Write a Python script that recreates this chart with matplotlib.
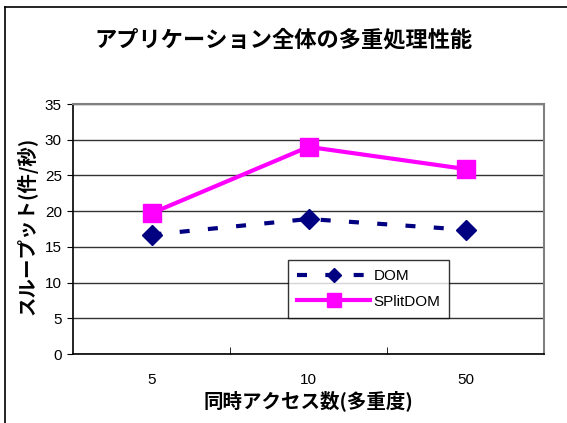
import matplotlib
matplotlib.use("Agg")
import matplotlib.pyplot as plt
from matplotlib.lines import Line2D

plt.rcParams['font.family'] = ['Liberation Sans', 'Noto Sans CJK JP', 'DejaVu Sans']

# データ
categories = ['5', '10', '50']
dom = [16.7, 18.9, 17.4]
splitdom = [19.7, 29.0, 25.9]
yticks = [0, 5, 10, 15, 20, 25, 30, 35]

W, H = 567, 423
fig = plt.figure(figsize=(W / 100, H / 100), dpi=100)
ax = fig.add_axes([73 / W, 1 - 354 / H, (544 - 73) / W, (354 - 104) / H])

x = list(range(len(categories)))
ax.plot(x, dom, color='#000080', lw=3, ls=(0, (2.4, 4.4)), marker='D',
        ms=10, label='DOM', zorder=3)
ax.plot(x, splitdom, color='#FF00FF', lw=3, marker='s', ms=13,
        label='SPlitDOM', zorder=4)

ax.set_xlim(-0.5, 2.5)
ax.set_ylim(0, 35)
ax.set_yticks(yticks)
ax.set_yticklabels([str(v) for v in yticks], fontsize=11)
ax.set_xticks(x)
ax.set_xticklabels(categories, fontsize=11)
ax.tick_params(axis='x', length=0, pad=14)
ax.set_xticks([0.5, 1.5], minor=True)
ax.tick_params(axis='x', which='minor', direction='in', length=5)
ax.tick_params(axis='y', direction='out', length=4, pad=4)
ax.grid(axis='y', color='#333333', lw=1)
ax.set_axisbelow(True)

for s in ['top', 'right']:
    ax.spines[s].set_color('#808080')
    ax.spines[s].set_linewidth(1.5)
for s in ['left', 'bottom']:
    ax.spines[s].set_color('black')
    ax.spines[s].set_linewidth(1.2)

ax.set_xlabel('同時アクセス数(多重度)', fontsize=14, fontweight='bold',
              family=['Noto Sans CJK JP'], labelpad=2)
fig.text(27 / W, 1 - 226 / H, 'スループット(件/秒)', rotation=90, ha='center',
         va='center', fontsize=14, fontweight='bold', family=['Noto Sans CJK JP'])
fig.text(0.5, 1 - 40 / H, 'アプリケーション全体の多重処理性能', ha='center',
         va='center', fontsize=16, fontweight='bold', family=['Noto Sans CJK JP'])

leg = ax.legend(loc='lower left', bbox_to_anchor=(0.456, 0.144), fontsize=11,
                frameon=True, fancybox=False, edgecolor='black',
                handlelength=4.8, borderpad=0.6, labelspacing=0.75,
                handletextpad=0.2, markerscale=0.75, borderaxespad=0)
leg.get_frame().set_linewidth(1)

# 外枠
fig.add_artist(Line2D([5 / W, 5 / W], [0, 1 - 7 / H], color='black', lw=1.2,
                      transform=fig.transFigure))
fig.add_artist(Line2D([5 / W, 1], [1 - 7 / H, 1 - 7 / H], color='black', lw=1.2,
                      transform=fig.transFigure))

fig.savefig('out.png', dpi=100)
